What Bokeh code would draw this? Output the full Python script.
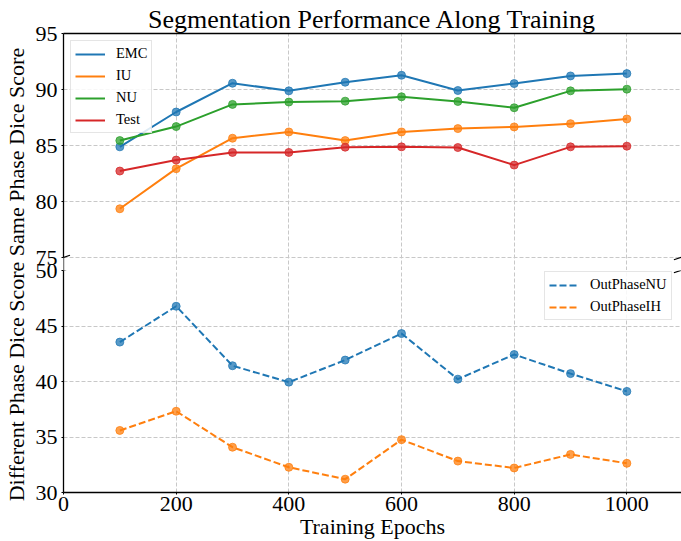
from bokeh.plotting import figure
from bokeh.layouts import column
from bokeh.models import Range1d, SingleIntervalTicker, FixedTicker, LinearAxis, Legend, Arrow
from bokeh.embed import file_html
from bokeh.resources import INLINE

epochs = [100, 200, 300, 400, 500, 600, 700, 800, 900, 1000]
emc = [84.88, 87.99, 90.56, 89.88, 90.65, 91.27, 89.91, 90.53, 91.21, 91.42]
iu = [79.35, 82.93, 85.65, 86.21, 85.44, 86.21, 86.51, 86.66, 86.95, 87.37]
nu = [85.44, 86.69, 88.67, 88.88, 88.96, 89.35, 88.93, 88.37, 89.88, 90.03]
test = [82.72, 83.70, 84.38, 84.38, 84.85, 84.88, 84.82, 83.25, 84.88, 84.94]
out_nu = [43.55, 46.78, 41.42, 39.94, 41.93, 44.32, 40.21, 42.43, 40.71, 39.11]
out_ih = [35.59, 37.32, 34.08, 32.27, 31.20, 34.76, 32.83, 32.21, 33.43, 32.63]

FONT = "Liberation Serif"
BLUE, ORANGE, GREEN, RED = "#1f77b4", "#ff7f0e", "#2ca02c", "#d62728"
X_END = 1097
GAP_UNITS = 13 / 11.2   # 13px gap between panels, in score units (11.2 px per unit)


def style(p):
    p.outline_line_color = None
    p.background_fill_color = "white"
    for g in (p.xgrid, p.ygrid):
        g.grid_line_color = "#c8c8c8"
        g.grid_line_dash = "4 2"
        g.grid_line_width = 1
    for ax in p.yaxis:
        ax.axis_label_text_font = FONT
        ax.axis_label_text_font_style = "normal"
        ax.axis_label_text_font_size = "22px"
        ax.axis_label_text_color = "black"
        ax.major_label_text_font = FONT
        ax.major_label_text_font_size = "22px"
        ax.major_label_text_color = "black"
        ax.axis_line_width = 1.3
        ax.axis_line_color = "black"
        ax.major_tick_in = 0
        ax.major_tick_out = 2
        ax.major_tick_line_color = "black"
        ax.minor_tick_line_color = None
        ax.major_label_standoff = 2
        ax.axis_label_standoff = 4


def seg(p, x0, y0, x1, y1, w=1.2):
    p.add_layout(Arrow(end=None, x_start=x0, y_start=y0, x_end=x1, y_end=y1,
                       line_color="black", line_width=w))


def break_mark(p, x, y, dx, dy):
    seg(p, x - dx, y - dy, x + dx, y + dy)


# ---------- top panel ----------
top = figure(width=681, height=270, x_range=Range1d(0, X_END), y_range=Range1d(75 - GAP_UNITS, 95),
             output_backend="svg", toolbar_location=None,
             min_border_left=63, min_border_right=0, min_border_bottom=0, min_border_top=33,
             title="Segmentation Performance Along Training", x_axis_location=None)
top.title.text_font = FONT
top.title.text_font_size = "26px"
top.title.text_font_style = "normal"
top.title.text_color = "black"
top.title.align = "center"
top.title.standoff = 0
style(top)
top.border_fill_color = "white"
top.yaxis.ticker = SingleIntervalTicker(interval=5)
top.yaxis.bounds = (75, 95)
top.yaxis.axis_label = "Same Phase Dice Score"
top.ygrid.bounds = (75, 95)
top.xgrid.ticker = SingleIntervalTicker(interval=200)
spine = LinearAxis(ticker=FixedTicker(ticks=[]), major_tick_out=0, major_tick_in=0,
                   minor_tick_line_color=None, axis_line_color="black", axis_line_width=1.3,
                   major_label_standoff=0)
top.add_layout(spine, "above")
# spine continues through the gap between the two panels
seg(top, 0, 75 - GAP_UNITS, 0, 75, w=1.3)

items = []
for name, vals, col in [("EMC", emc, BLUE), ("IU", iu, ORANGE), ("NU", nu, GREEN), ("Test", test, RED)]:
    r = top.line(epochs, vals, line_color=col, line_width=2)
    top.scatter(epochs, vals, size=8, fill_color=col, line_color=col, fill_alpha=0.75, line_alpha=0.75)
    items.append((name, [r]))
leg = Legend(items=items, location="top_left", margin=7)
top.add_layout(leg)
break_mark(top, 0, 75, 11.5, 0.2)
break_mark(top, X_END - 2, 75, 11.5, 0.2)

# ---------- bottom panel ----------
bot = figure(width=681, height=284, x_range=top.x_range, y_range=Range1d(30, 50),
             output_backend="svg", toolbar_location=None,
             min_border_left=63, min_border_right=0, min_border_top=13, min_border_bottom=0)
style(bot)
bot.border_fill_alpha = 0
bot.margin = (-13, 0, 0, 0)
bot.yaxis.ticker = SingleIntervalTicker(interval=5)
bot.yaxis.axis_label = "Different Phase Dice Score"
bot.xaxis.ticker = SingleIntervalTicker(interval=200)
bot.xaxis.axis_label = "Training Epochs"
bot.xaxis.axis_label_text_font = FONT
bot.xaxis.axis_label_text_font_style = "normal"
bot.xaxis.axis_label_text_font_size = "22px"
bot.xaxis.axis_label_text_color = "black"
bot.xaxis.major_label_text_font = FONT
bot.xaxis.major_label_text_font_size = "22px"
bot.xaxis.major_label_text_color = "black"
bot.xaxis.axis_line_width = 1.3
bot.xaxis.axis_line_color = "black"
bot.xaxis.major_tick_in = 0
bot.xaxis.major_tick_out = 2
bot.xaxis.major_tick_line_color = "black"
bot.xaxis.minor_tick_line_color = None
bot.xaxis.major_label_standoff = 0
bot.xaxis.axis_label_standoff = 0

items2 = []
for name, vals, col in [("OutPhaseNU", out_nu, BLUE), ("OutPhaseIH", out_ih, ORANGE)]:
    r = bot.line(epochs, vals, line_color=col, line_width=2, line_dash="7 3")
    bot.scatter(epochs, vals, size=8, fill_color=col, line_color=col, fill_alpha=0.75, line_alpha=0.75)
    items2.append((name, [r]))
leg2 = Legend(items=items2, location=(481, 172), margin=0)
bot.add_layout(leg2)
break_mark(bot, 0, 50, 11.5, 0.2)
break_mark(bot, X_END - 2, 50, 11.5, 0.2)

for lg in (leg, leg2):
    lg.label_text_font = FONT
    lg.label_text_font_size = "14.5px"
    lg.label_text_color = "black"
    lg.background_fill_alpha = 0.85
    lg.border_line_color = "#cccccc"
    lg.border_line_width = 1
    lg.glyph_width = 30
    lg.glyph_height = 16
    lg.label_height = 16
    lg.spacing = 5
    lg.padding = 4
    lg.label_standoff = 11

layout = column(top, bot, spacing=0)
open("out.html", "w").write(file_html(layout, INLINE))
